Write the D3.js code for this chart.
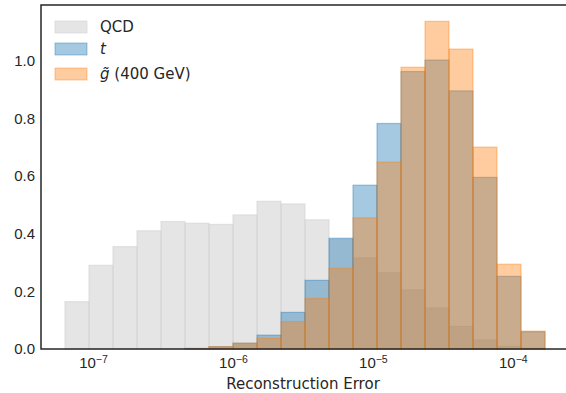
<!DOCTYPE html>
<html>
<head>
<meta charset="utf-8">
<script src="https://cdn.jsdelivr.net/npm/d3@7"></script>
<style>
  body { margin: 0; background: #fff; }
  svg { display: block; font-family: "DejaVu Sans", sans-serif; }
</style>
</head>
<body>
<svg id="chart" width="566" height="393"></svg>
<script>
// log10 bin range of the histograms (20 equal bins in log space)
const logMin = -7.2;
const logMax = -3.77;
const nBins = 20;

// normalised bin heights
const qcdValues = [0.164, 0.29, 0.355, 0.41, 0.442, 0.436, 0.432, 0.465, 0.512, 0.503,
                   0.448, 0.38, 0.316, 0.265, 0.205, 0.142, 0.078, 0.031, 0.01, 0.003];
const topValues = [0, 0, 0, 0, 0, 0.002, 0.008, 0.02, 0.048, 0.127,
                   0.238, 0.384, 0.568, 0.782, 0.962, 1.002, 0.895, 0.595, 0.252, 0.06];
const gluinoValues = [0, 0, 0, 0, 0, 0.001, 0.008, 0.02, 0.037, 0.095,
                      0.175, 0.28, 0.455, 0.648, 0.977, 1.136, 1.04, 0.70, 0.294, 0.062];

const xTickExps = [-7, -6, -5, -4];
const yTicks = [0, 0.2, 0.4, 0.6, 0.8, 1.0];
const xLabel = "Reconstruction Error";

const series = [
  { name: "QCD", values: qcdValues, color: "#d3d3d3", alpha: 0.6 },
  { name: "t", values: topValues, color: "#1f77b4", alpha: 0.4 },
  { name: "g", values: gluinoValues, color: "#ff7f0e", alpha: 0.4 }
];

const svg = d3.select("#chart");
const plotLeft = 41, plotTop = 5, plotBottom = 349, plotRight = 569;

const step = (logMax - logMin) / nBins;
const edges = d3.range(nBins + 1).map(i => Math.pow(10, logMin + i * step));
const pad = 0.05 * (logMax - logMin);

const x = d3.scaleLog()
  .domain([Math.pow(10, logMin - pad), Math.pow(10, logMax + pad)])
  .range([plotLeft, plotRight]);

const yMax = d3.max(series, s => d3.max(s.values)) * 1.05;
const y = d3.scaleLinear().domain([0, yMax]).range([plotBottom, plotTop]);

// bars
series.forEach(s => {
  svg.append("g")
    .selectAll("rect")
    .data(s.values.map((v, i) => ({ v, i })).filter(d => d.v > 0))
    .enter()
    .append("rect")
      .attr("x", d => x(edges[d.i]))
      .attr("width", d => x(edges[d.i + 1]) - x(edges[d.i]))
      .attr("y", d => y(d.v))
      .attr("height", d => y(0) - y(d.v))
      .attr("fill", s.color)
      .attr("fill-opacity", s.alpha)
      .attr("stroke", s.color)
      .attr("stroke-opacity", s.alpha)
      .attr("stroke-width", 1.2);
});

// axes
const xAxis = d3.axisBottom(x)
  .tickValues(xTickExps.map(e => Math.pow(10, e)))
  .tickSize(0)
  .tickPadding(8)
  .tickFormat(() => "");

const gx = svg.append("g")
  .attr("transform", `translate(0, ${plotBottom})`)
  .call(xAxis);
gx.select(".domain").remove();
gx.selectAll(".tick text")
  .attr("font-size", 15)
  .attr("fill", "#262626")
  .each(function (d) {
    const t = d3.select(this);
    t.append("tspan").text("10");
    t.append("tspan")
      .attr("dy", "-0.45em")
      .attr("font-size", 10.5)
      .text("\u2212" + Math.abs(Math.round(Math.log10(d))));
  });

const yAxis = d3.axisLeft(y)
  .tickValues(yTicks)
  .tickSize(0)
  .tickPadding(6)
  .tickFormat(d3.format(".1f"));

const gy = svg.append("g")
  .attr("transform", `translate(${plotLeft}, 0)`)
  .call(yAxis);
gy.select(".domain").remove();
gy.selectAll(".tick text")
  .attr("font-size", 15)
  .attr("fill", "#262626");

svg.append("text")
  .attr("x", 303)
  .attr("y", 389)
  .attr("text-anchor", "middle")
  .attr("font-size", 15)
  .attr("fill", "#262626")
  .text(xLabel);

// spines
svg.append("rect")
  .attr("x", plotLeft)
  .attr("y", plotTop)
  .attr("width", plotRight - plotLeft)
  .attr("height", plotBottom - plotTop)
  .attr("fill", "none")
  .attr("stroke", "#262626")
  .attr("stroke-width", 1.5);

// legend
const legend = svg.append("g").attr("transform", "translate(55, 0)");
const rowY = [27, 49, 74];

series.forEach((s, i) => {
  legend.append("rect")
    .attr("x", 0)
    .attr("y", rowY[i] - 6)
    .attr("width", 32)
    .attr("height", 12)
    .attr("fill", s.color)
    .attr("fill-opacity", s.alpha)
    .attr("stroke", s.color)
    .attr("stroke-opacity", s.alpha);

  const label = legend.append("text")
    .attr("x", 45)
    .attr("y", rowY[i] + 5)
    .attr("font-size", 15)
    .attr("fill", "#262626");

  if (s.name === "QCD") {
    label.text("QCD");
  } else if (s.name === "t") {
    label.append("tspan").attr("font-style", "italic").text("t");
  } else {
    label.append("tspan").attr("font-style", "italic").text("g\u0303");
    label.append("tspan").text(" (400 GeV)");
  }
});
</script>
</body>
</html>
